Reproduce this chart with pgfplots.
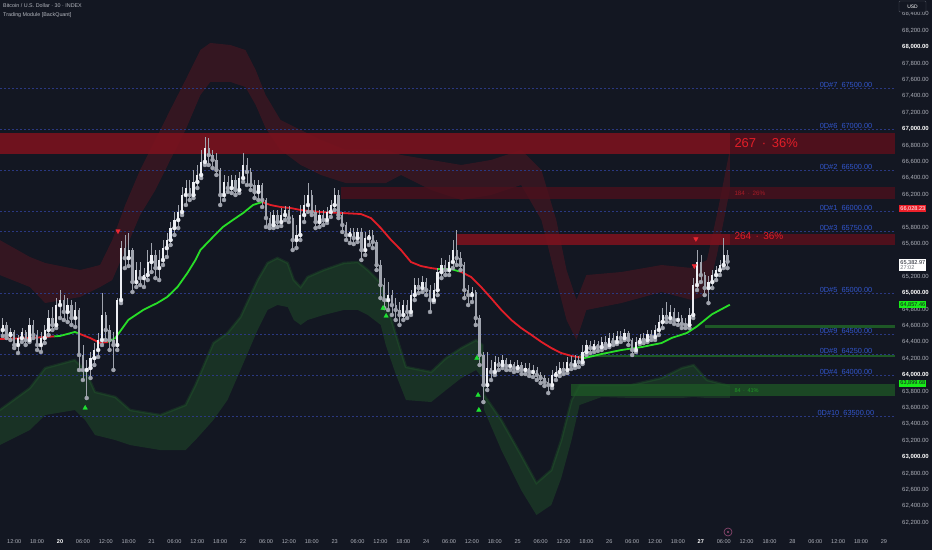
\documentclass[border=0pt]{standalone}
\usepackage{fontspec}
\setmainfont{Liberation Sans}
\usepackage{pgfplots}
\pgfplotsset{compat=1.18}
\usepackage{pgfplotstable}

\definecolor{bgc}{RGB}{19,23,34}
\definecolor{lvl}{RGB}{42,56,128}
\definecolor{lvltxt}{RGB}{50,86,205}
\definecolor{mared}{RGB}{226,30,40}
\definecolor{magreen}{RGB}{40,222,40}
\definecolor{cloudred}{RGB}{150,20,32}
\definecolor{cloudgreen}{RGB}{45,140,50}
\definecolor{bandred}{RGB}{122,18,30}
\definecolor{bandreddim}{RGB}{78,16,28}
\definecolor{zonegreen}{RGB}{30,88,38}
\definecolor{candleup}{RGB}{236,238,243}
\definecolor{candledn}{RGB}{160,164,174}
\definecolor{axtxt}{RGB}{172,175,184}
\definecolor{tagred}{RGB}{236,32,42}
\definecolor{taggreen}{RGB}{24,236,24}
\definecolor{trired}{RGB}{236,40,50}
\definecolor{trigreen}{RGB}{30,225,50}

\pgfplotstableread{
t o h l c
-15 64549 64695 64476 64610
-14 64610 64647 64451 64488
-13 64488 64573 64427 64525
-12 64525 64549 64329 64366
-11 64366 64488 64268 64451
-10 64451 64573 64403 64525
-9 64525 64549 64366 64427
-8 64427 64695 64403 64610
-7 64610 64671 64451 64488
-6 64488 64549 64305 64366
-5 64366 64525 64281 64451
-4 64451 64610 64390 64549
-3 64549 64793 64488 64695
-2 64695 64829 64549 64610
-1 64610 64938 64573 64853
0 64853 65036 64695 64914
1 64914 64975 64671 64769
2 64769 64938 64647 64853
3 64853 64914 64610 64695
4 64695 64890 64586 64793
5 64793 64816 64061 64244
6 64244 64366 63939 64061
7 64061 64183 63719 64085
8 64085 64281 63963 64207
9 64207 64390 64122 64305
10 64305 64512 64220 64427
11 64427 64999 64366 64732
12 64732 64769 64427 64549
13 64549 64610 64305 64427
14 64427 64525 64061 64366
15 64366 64938 64305 64914
16 64914 65634 64877 65548
17 65548 65707 65304 65426
18 65426 65731 65329 65524
19 65524 65548 65012 65134
20 65134 65378 65073 65280
21 65280 65378 65097 65182
22 65182 65304 65073 65219
23 65219 65524 65158 65378
24 65378 65609 65256 65463
25 65463 65524 65182 65304
26 65304 65524 65158 65402
27 65402 65646 65341 65548
28 65548 65731 65439 65646
29 65646 65866 65585 65792
30 65792 65988 65707 65890
31 65890 66073 65792 65988
32 65988 66293 65951 66195
33 66195 66378 66073 66280
34 66280 66378 66134 66195
35 66195 66500 66158 66354
36 66354 66561 66280 66439
37 66439 66744 66402 66598
38 66598 66903 66561 66768
39 66768 66890 66561 66683
40 66683 66744 66524 66622
41 66622 66707 66439 66500
42 66500 66524 66073 66195
43 66195 66439 66134 66354
44 66354 66427 66232 66280
45 66280 66439 66219 66378
46 66378 66439 66195 66256
47 66256 66476 66219 66402
48 66402 66707 66354 66561
49 66561 66646 66317 66476
50 66476 66524 66256 66317
51 66317 66378 66158 66232
52 66232 66378 66134 66317
53 66317 66341 66049 66134
54 66134 66158 65805 65914
55 65914 65988 65792 65829
56 65829 66012 65792 65951
57 65951 66012 65805 65866
58 65866 66036 65817 65951
59 65951 66061 65890 66012
60 66012 66061 65866 65914
61 65914 65951 65524 65646
62 65646 65829 65548 65707
63 65707 66073 65646 65951
64 65951 66195 65866 66073
65 66073 66341 65988 66195
66 66195 66256 65951 65988
67 65988 66073 65792 65866
68 65866 66012 65805 65951
69 65951 66012 65829 65890
70 65890 66049 65854 65988
71 65988 66134 65927 66073
72 66073 66280 66012 66195
73 66195 66256 65914 65951
74 65951 65988 65744 65829
75 65829 65866 65646 65707
76 65707 65792 65609 65744
77 65744 65792 65597 65670
78 65670 65792 65622 65744
79 65744 65792 65402 65524
80 65524 65744 65463 65670
81 65670 65768 65585 65707
82 65707 65768 65548 65622
83 65622 65646 65280 65341
84 65341 65402 64938 65097
85 65097 65182 64816 64914
86 64914 65134 64793 64975
87 64975 65036 64732 64853
88 64853 64938 64671 64793
89 64793 64890 64610 64732
90 64732 64914 64671 64853
91 64853 64914 64695 64769
92 64769 65036 64732 64975
93 64975 65182 64914 65097
94 65097 65182 64999 65061
95 65061 65207 65012 65134
96 65134 65182 64975 65036
97 65036 65097 64769 64914
98 64914 65122 64890 65036
99 65036 65304 64975 65256
100 65256 65426 65182 65341
101 65341 65402 65219 65280
102 65280 65463 65219 65378
103 65378 65646 65304 65524
104 65524 65768 65341 65426
105 65426 65500 65280 65341
106 65341 65378 64938 65036
107 65036 65097 64853 64975
108 64975 65073 64890 65012
109 65012 65036 64610 64695
110 64695 64732 64122 64244
111 64244 64281 63670 63878
112 63878 64281 63817 64085
113 64085 64183 63939 64037
114 64037 64232 64000 64158
115 64158 64220 64061 64122
116 64122 64244 64085 64183
117 64183 64207 64061 64110
118 64110 64183 64061 64134
119 64134 64158 64037 64085
120 64085 64183 64049 64122
121 64122 64158 64012 64061
122 64061 64146 64012 64085
123 64085 64146 63988 64037
124 64037 64122 63976 64061
125 64061 64098 63939 64000
126 64000 64037 63902 63963
127 63963 64000 63866 63915
128 63915 63963 63780 63878
129 63878 64061 63841 64000
130 64000 64110 63939 64037
131 64037 64158 63988 64085
132 64085 64158 64012 64061
133 64061 64220 64024 64158
134 64158 64232 64073 64122
135 64122 64244 64085 64183
136 64183 64232 64098 64158
137 64158 64366 64134 64281
138 64281 64427 64244 64366
139 64366 64415 64268 64329
140 64329 64427 64281 64378
141 64378 64415 64293 64341
142 64341 64464 64305 64403
143 64403 64476 64329 64366
144 64366 64512 64341 64451
145 64451 64512 64366 64403
146 64403 64537 64378 64476
147 64476 64537 64403 64451
148 64451 64561 64427 64512
149 64512 64537 64366 64427
150 64427 64451 64244 64305
151 64305 64464 64281 64403
152 64403 64500 64378 64451
153 64451 64512 64390 64427
154 64427 64549 64403 64500
155 64500 64549 64427 64464
156 64464 64610 64427 64549
157 64549 64732 64488 64647
158 64647 64816 64573 64732
159 64732 64890 64647 64695
160 64695 64853 64647 64769
161 64769 64816 64622 64671
162 64671 64769 64610 64695
163 64695 64732 64573 64622
164 64622 64695 64573 64610
165 64610 64816 64573 64732
166 64732 65182 64695 65097
167 65097 65524 65036 65378
168 65378 65463 65134 65219
169 65219 65256 64975 65061
170 65061 65207 64877 65134
171 65134 65280 65061 65219
172 65219 65329 65158 65280
173 65280 65402 65219 65341
174 65341 65670 65304 65463
175 65463 65524 65304 65383
}\candles

% upper (red) cloud outline: lower edge forward, upper edge back
\pgfplotstableread{
t p
-15.8 65219
-7.9 65073
-3.9 64878
5.3 64951
10.5 65073
13.7 65158
17.1 65524
21.0 65951
25.0 66256
28.9 66622
32.9 66988
36.8 67414
39.4 67573
44.7 67573
48.6 67512
51.3 67293
53.9 67012
57.8 66744
63.1 66561
68.4 66439
74.9 66341
85.4 66341
89.4 66439
97.3 66256
105.2 66134
113.0 66195
120.9 66317
126.2 65890
130.1 65158
132.8 64671
135.4 64427
138.0 64793
147.2 64878
157.7 65012
165.6 64915
169.6 64975
172.2 65463
175.6 66256
175.6 66744
172.2 65951
169.6 65402
165.6 65305
157.7 65341
147.2 65256
138.0 65219
135.4 64915
132.8 65280
130.1 65890
126.2 66500
120.9 66744
113.0 66622
105.2 66561
97.3 66622
89.4 66683
85.4 66744
74.9 66744
68.4 66866
63.1 66988
57.8 67110
53.9 67414
51.3 67719
48.6 67963
44.7 68024
39.4 68049
36.8 67963
32.9 67597
28.9 67232
25.0 66866
21.0 66500
17.1 66073
13.7 65646
10.5 65341
5.3 65280
-3.9 65366
-7.9 65439
-15.8 65646
}\redcloud

% lower (green) cloud outline: upper edge forward, lower edge back
\pgfplotstableread{
t p
-15.8 63573
-7.9 63841
-3.9 64085
3.9 64183
6.6 64061
9.2 63793
14.5 63732
18.4 63573
26.3 63512
32.9 63634
35.5 63878
40.2 64390
43.9 64512
47.3 64707
51.8 65158
54.4 65366
57.0 65427
59.7 65366
61.3 65158
63.1 65073
64.9 65195
69.1 65280
74.4 65366
78.1 65378
80.7 65280
84.1 65122
85.4 64915
88.1 64488
90.7 64098
97.3 64037
101.2 64207
105.2 64329
109.1 64427
110.7 64366
111.2 63756
115.7 63451
120.9 63024
124.9 62683
128.8 62841
131.4 63207
134.1 63695
136.2 63878
142.0 63878
149.8 63878
157.7 63963
163.0 64085
166.1 64122
169.6 63939
175.6 63866
175.6 63720
169.6 63720
166.1 63732
163.0 63720
157.7 63720
149.8 63720
142.0 63732
136.2 63634
134.1 63207
131.4 62744
128.8 62415
124.9 62293
120.9 62597
115.7 63085
111.2 63573
110.7 63963
109.1 64061
105.2 63963
101.2 63817
97.3 63671
90.7 63695
88.1 64000
85.4 64366
84.1 64610
80.7 64732
78.1 64793
74.4 64793
69.1 64732
64.9 64671
63.1 64610
61.3 64671
59.7 64829
57.0 64854
54.4 64793
51.8 64549
47.3 64061
43.9 63695
40.2 63451
35.5 63207
32.9 63085
26.3 63085
18.4 63146
14.5 63207
9.2 63268
6.6 63451
3.9 63573
-3.9 63512
-7.9 63329
-15.8 63146
}\greencloud

\begin{document}
\begin{tikzpicture}
\fill[bgc] (0,0) rectangle (932bp,550bp);
\begin{axis}[
  at={(0,20bp)}, anchor=south west,
  scale only axis, width=895bp, height=530bp,
  xmin=-15.73, xmax=218.9, ymin=62110, ymax=68573,
  scaled y ticks=false, scaled x ticks=false,
  clip mode=individual,
  axis line style={draw=none},
  tick style={draw=none},
  major tick length=0pt,
  yticklabel pos=right,
  ytick={62200,62400,...,68400},
  yticklabels={{62,200.00},{62,400.00},{62,600.00},{62,800.00},{\textcolor{white}{\textbf{63,000.00}}},{63,200.00},{63,400.00},{63,600.00},{63,800.00},{\textcolor{white}{\textbf{64,000.00}}},{64,200.00},{64,400.00},{64,600.00},{64,800.00},{\textcolor{white}{\textbf{65,000.00}}},{65,200.00},{},{65,600.00},{65,800.00},{},{66,200.00},{66,400.00},{66,600.00},{66,800.00},{\textcolor{white}{\textbf{67,000.00}}},{67,200.00},{67,400.00},{67,600.00},{67,800.00},{\textcolor{white}{\textbf{68,000.00}}},{68,200.00},{68,400.00}},
  yticklabel style={anchor=west, inner sep=0pt, xshift=7bp, font=\fontsize{6}{7}\selectfont, text=axtxt},
  xtick={-12,-6,...,216},
  xticklabels={12:00,18:00,{\textcolor{white}{\textbf{20}}},06:00,12:00,18:00,21,06:00,12:00,18:00,22,06:00,12:00,18:00,23,06:00,12:00,18:00,24,06:00,12:00,18:00,25,06:00,12:00,18:00,26,06:00,12:00,18:00,{\textcolor{white}{\textbf{27}}},06:00,12:00,18:00,28,06:00,12:00,18:00,29},
  xticklabel style={anchor=center, inner sep=0pt, yshift=-12bp, font=\fontsize{5.6}{6.5}\selectfont, text=axtxt},
]
% clouds (soft)
\addplot[draw=none, fill=cloudred, fill opacity=0.26] table[x=t, y=p] {\redcloud} -- cycle;
\addplot[draw=none, fill=cloudgreen, fill opacity=0.24] table[x=t, y=p] {\greencloud} -- cycle;
\addplot[cloudgreen, line width=2.5bp, opacity=0.18, skip coords between index={49}{98}] table[x=t, y=p] {\greencloud};

% horizontal zones
\addplot[draw=none, fill=bandred, fill opacity=0.9] coordinates {(-15.73,66695) (175.6,66695) (175.6,66951) (-15.73,66951)} -- cycle;
\addplot[draw=none, fill=bandreddim] coordinates {(175.6,66695) (218.9,66695) (218.9,66951) (175.6,66951)} -- cycle;
\addplot[draw=none, fill=bandreddim, fill opacity=0.75] coordinates {(73.6,66146) (218.9,66146) (218.9,66293) (73.6,66293)} -- cycle;
\addplot[draw=none, fill=bandred, fill opacity=0.9] coordinates {(103.8,65590) (175.6,65590) (175.6,65720) (103.8,65720)} -- cycle;
\addplot[draw=none, fill=bandreddim] coordinates {(175.6,65590) (218.9,65590) (218.9,65720) (175.6,65720)} -- cycle;
\addplot[draw=none, fill=zonegreen] coordinates {(169,64575) (218.9,64575) (218.9,64612) (169,64612)} -- cycle;
\addplot[draw=none, fill=zonegreen] coordinates {(136,64215) (218.9,64215) (218.9,64250) (136,64250)} -- cycle;
\addplot[draw=none, fill=zonegreen, fill opacity=0.75] coordinates {(134,63744) (218.9,63744) (218.9,63890) (134,63890)} -- cycle;

% level lines
\pgfplotsinvokeforeach{67500,67000,66500,66000,65750,65000,64500,64250,64000,63500}{
  \addplot[lvl, line width=0.6bp, dash pattern=on 2bp off 2bp] coordinates {(-15.73,#1) (218.9,#1)};
}

% moving average
\addplot[mared, line width=1.8bp, line join=round] coordinates {(-15.8,64439) (-7.9,64451) (-1.5,64471)};
\addplot[magreen, line width=1.8bp, line join=round] coordinates {(-1.5,64471) (0,64476) (3.9,64525) (4.7,64510)};
\addplot[mared, line width=1.8bp, line join=round] coordinates {(4.7,64510) (7.9,64451) (10.5,64390) (12.6,64403)};
\addplot[magreen, line width=1.8bp, line join=round] coordinates {(12.6,64403) (14.5,64451) (17.9,64671) (21.8,64793) (25.5,64878) (28.1,64951) (30.8,65073) (33.4,65244) (35.5,65402) (36.8,65524) (40.1,65683) (42.7,65805) (45.3,65890) (48.0,65975) (50.6,66073) (53.0,66110)};
\addplot[mared, line width=1.8bp, line join=round] coordinates {(53.0,66110) (55.2,66073) (57.8,66049) (60.5,66036) (63.1,66012) (68.3,65988) (73.6,65976) (78.9,65963) (81.5,65914) (84.1,65792) (86.8,65646) (89.4,65524) (92.0,65378) (94.6,65329) (97.3,65304) (99.1,65292)};
\addplot[magreen, line width=1.8bp, line join=round] coordinates {(99.1,65292) (102.5,65292) (104.6,65264)};
\addplot[mared, line width=1.8bp, line join=round] coordinates {(104.6,65264) (105.2,65256) (107.8,65195) (110.4,65073) (113.0,64938) (115.7,64793) (118.3,64671) (120.9,64573) (123.6,64488) (126.2,64403) (128.8,64329) (131.4,64268) (134.1,64232) (136.5,64214)};
\addplot[magreen, line width=1.8bp, line join=round] coordinates {(136.5,64214) (137.5,64207) (142.0,64256) (147.2,64305) (152.5,64341) (157.7,64390) (160.3,64451) (164.3,64512) (166.9,64590) (170.9,64740) (175.6,64857)};

% candles: wicks
\addplot[candledn, only marks, mark=none, error bars/.cd, y dir=plus, y explicit, error mark=none,
  error bar style={candledn, line width=0.6bp}]
  table[x=t, y=l, y error plus expr=\thisrow{h}-\thisrow{l}] {\candles};
% up bodies
\addplot[candleup, only marks, mark=none, unbounded coords=discard, error bars/.cd, y dir=plus, y explicit, error mark=none,
  error bar style={candleup, line width=2.3bp}]
  table[x=t, y expr={\thisrow{c}>=\thisrow{o} ? \thisrow{o} : nan}, y error plus expr={max(\thisrow{c}-\thisrow{o},8)}] {\candles};
% down bodies
\addplot[candledn, only marks, mark=none, unbounded coords=discard, error bars/.cd, y dir=plus, y explicit, error mark=none,
  error bar style={candledn, line width=2.3bp}]
  table[x=t, y expr={\thisrow{c}<\thisrow{o} ? \thisrow{c} : nan}, y error plus expr={max(\thisrow{o}-\thisrow{c},8)}] {\candles};

% signals
\addplot[only marks, mark=triangle*, mark size=2.6bp, color=trigreen] coordinates {(6.6,63598) (84.7,64817) (85.5,64720) (109.3,64207) (109.6,63756) (109.8,63573)};
\addplot[only marks, mark=triangle*, mark size=2.6bp, color=trired, mark options={rotate=180}] coordinates {(15.2,65756) (166.7,65660) (166.3,65330)};

% zone labels
\node[anchor=west, text=mared, font=\fontsize{13}{14}\selectfont] at (axis cs:175.9,66823) {267 \,·\, 36\%};
\node[anchor=west, text=mared!70!bgc, font=\fontsize{6.3}{7}\selectfont] at (axis cs:175.9,66219) {184 \,·\, 26\%};
\node[anchor=west, text=mared, font=\fontsize{10}{11}\selectfont] at (axis cs:175.9,65700) {264 \,·\, 36\%};
\node[anchor=west, text=magreen!65!bgc, font=\fontsize{5.6}{6.5}\selectfont] at (axis cs:175.9,63805) {84 \,·\, 41\%};

% level labels
\node[anchor=south east, inner sep=0.4bp, text=lvltxt, font=\fontsize{7.4}{8}\selectfont] at (axis cs:213.1,67500) {0D\#7\ \ 67500.00};
\node[anchor=south east, inner sep=0.4bp, text=lvltxt, font=\fontsize{7.4}{8}\selectfont] at (axis cs:213.1,67000) {0D\#6\ \ 67000.00};
\node[anchor=south east, inner sep=0.4bp, text=lvltxt, font=\fontsize{7.4}{8}\selectfont] at (axis cs:213.1,66500) {0D\#2\ \ 66500.00};
\node[anchor=south east, inner sep=0.4bp, text=lvltxt, font=\fontsize{7.4}{8}\selectfont] at (axis cs:213.1,66000) {0D\#1\ \ 66000.00};
\node[anchor=south east, inner sep=0.4bp, text=lvltxt, font=\fontsize{7.4}{8}\selectfont] at (axis cs:213.1,65750) {0D\#3\ \ 65750.00};
\node[anchor=south east, inner sep=0.4bp, text=lvltxt, font=\fontsize{7.4}{8}\selectfont] at (axis cs:213.1,65000) {0D\#5\ \ 65000.00};
\node[anchor=south east, inner sep=0.4bp, text=lvltxt, font=\fontsize{7.4}{8}\selectfont] at (axis cs:213.1,64500) {0D\#9\ \ 64500.00};
\node[anchor=south east, inner sep=0.4bp, text=lvltxt, font=\fontsize{7.4}{8}\selectfont] at (axis cs:213.1,64250) {0D\#8\ \ 64250.00};
\node[anchor=south east, inner sep=0.4bp, text=lvltxt, font=\fontsize{7.4}{8}\selectfont] at (axis cs:213.1,64000) {0D\#4\ \ 64000.00};
\node[anchor=south east, inner sep=0.4bp, text=lvltxt, font=\fontsize{7.4}{8}\selectfont] at (axis cs:213.6,63500) {0D\#10\ \ 63500.00};
\end{axis}

% title
\node[anchor=west, inner sep=0pt, text=axtxt!90!white, font=\fontsize{5.4}{6}\selectfont] at (3bp,544bp) {Bitcoin / U.S. Dollar · 30 · INDEX};
\node[anchor=west, inner sep=0pt, text=axtxt!90!white, font=\fontsize{5.4}{6}\selectfont] at (3bp,535bp) {Trading Module [BackQuant]};

% USD box
\draw[draw=axtxt!40!bgc, fill=bgc, rounded corners=1bp] (899bp,538bp) rectangle (926bp,549bp);
\node[text=white, font=\fontsize{5}{6}\selectfont] at (912.5bp,543.5bp) {USD};

% price tags
\node[fill=tagred, text=white, inner sep=1.2bp, anchor=west, font=\fontsize{5.6}{6.5}\selectfont] at (899bp,341.3bp) {66,028.23};
\node[fill=white, text=bgc, inner sep=1.2bp, anchor=west, align=left, font=\fontsize{5.6}{6}\selectfont] at (899bp,285bp) {65,382.97\\[-0.5bp]\textcolor{bgc!60!white}{27:02}};
\node[fill=taggreen, text=bgc, inner sep=1.2bp, anchor=west, font=\fontsize{5.6}{6.5}\selectfont] at (899bp,245.3bp) {64,857.46};
\node[fill=taggreen, text=bgc, inner sep=1.2bp, anchor=west, font=\fontsize{5.6}{6.5}\selectfont] at (899bp,166.8bp) {63,899.68};

% bottom icon
\draw[draw=magenta!50!bgc, line width=0.6bp] (728bp,18bp) circle (4bp);
\fill[magenta!50!bgc] (728bp,18bp) circle (1.2bp);
\end{tikzpicture}
\end{document}
